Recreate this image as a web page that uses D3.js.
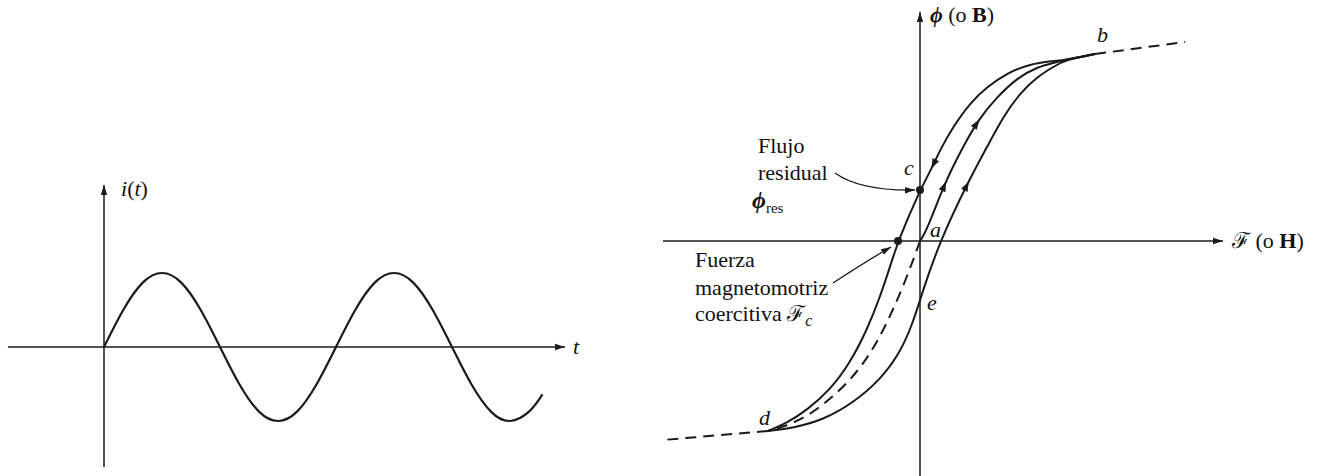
<!DOCTYPE html>
<html>
<head>
<meta charset="utf-8">
<script src="https://cdn.jsdelivr.net/npm/d3@7"></script>
<style>
body { margin: 0; background: #fff; }
text { font-family: "Liberation Serif", "Times New Roman", serif; font-size: 22px; fill: #111; }
.it { font-style: italic; }
</style>
</head>
<body>
<svg id="chart" width="1319" height="476"></svg>
<script>
// ---- left panel: i(t), time in periods, current normalised to peak
const sineT = [0, 0.083, 0.167, 0.25, 0.333, 0.417, 0.5, 0.583, 0.667, 0.75, 0.833, 0.917,
               1, 1.083, 1.167, 1.25, 1.333, 1.417, 1.5, 1.583, 1.667, 1.75, 1.833, 1.89];
const sineI = [0, 0.5, 0.87, 1, 0.87, 0.5, 0, -0.5, -0.87, -1, -0.87, -0.5,
               0, 0.5, 0.87, 1, 0.87, 0.5, 0, -0.5, -0.87, -1, -0.87, -0.64];
const leftTRange = [-0.414, 1.987];
const leftIRange = [-1.62, 2.19];

// ---- right panel: hysteresis loop, mmf F vs flux phi (arbitrary units)
// descending branch b -> c -> Fc -> d
const descF   = [1.75, 1.45, 1.33, 1.10, 0.87, 0.67, 0.50, 0.33, 0.20, 0.12, 0.00, -0.22, -0.30, -0.40, -0.53, -0.70, -0.90, -1.13, -1.33, -1.52];
const descPhi = [1.87, 1.81, 1.80, 1.77, 1.68, 1.54, 1.38, 1.14, 0.91, 0.73, 0.51, 0.00, -0.26, -0.56, -0.89, -1.22, -1.49, -1.69, -1.82, -1.90];
// ascending branch d -> e -> b
const ascF    = [-1.52, -1.27, -0.97, -0.67, -0.40, -0.20, -0.07, 0.03, 0.20, 0.48, 0.67, 0.83, 1.00, 1.17, 1.33, 1.45, 1.75];
const ascPhi  = [-1.90, -1.87, -1.79, -1.62, -1.39, -1.12, -0.82, -0.49, 0.00, 0.59, 0.94, 1.24, 1.48, 1.64, 1.74, 1.81, 1.87];
// initial magnetisation a -> b
const initF   = [0, 0.07, 0.25, 0.43, 0.58, 0.77, 0.97, 1.17, 1.37, 1.45, 1.75];
const initPhi = [0, 0.11, 0.59, 0.94, 1.21, 1.44, 1.63, 1.74, 1.79, 1.81, 1.87];
// initial magnetisation a -> d (dashed)
const negF    = [0, -0.13, -0.27, -0.43, -0.63, -0.87, -1.13, -1.37, -1.52];
const negPhi  = [0, -0.36, -0.69, -1.02, -1.32, -1.56, -1.76, -1.86, -1.90];
// saturation tails (dashed)
const tailUpF = [1.75, 2.65],  tailUpPhi = [1.87, 1.99];
const tailDnF = [-1.52, -2.57], tailDnPhi = [-1.90, -1.99];
const rightFRange = [-2.57, 3.03];
const rightPhiRange = [-2.35, 2.29];

// points marked on the loop
const residual = [0, 0.51];
const coercive = [-0.22, 0];
// direction arrows on the branches: [branch, F, phi]
const flowArrows = [["desc", 0.12, 0.73], ["init", 0.25, 0.59], ["init", 0.58, 1.21], ["asc", 0.48, 0.59]];

const svg = d3.select("#chart");
const ink = "#1a1a1a";

const defs = svg.append("defs");
defs.append("marker")
    .attr("id", "tip")
    .attr("viewBox", "0 -4 10 8")
    .attr("refX", 10).attr("refY", 0)
    .attr("markerUnits", "userSpaceOnUse")
    .attr("markerWidth", 10).attr("markerHeight", 8)
    .attr("orient", "auto")
  .append("path")
    .attr("d", "M0,-3.2L10,0L0,3.2Z")
    .attr("fill", ink);

// ---------------- left panel
const xL = d3.scaleLinear().domain([0, 1]).range([104, 336]);
const yL = d3.scaleLinear().domain([0, 1]).range([347, 273]);

const gL = svg.append("g");
gL.append("line")
    .attr("x1", xL(leftTRange[0])).attr("x2", xL(leftTRange[1]))
    .attr("y1", yL(0)).attr("y2", yL(0))
    .attr("stroke", ink).attr("stroke-width", 1.5)
    .attr("marker-end", "url(#tip)");
gL.append("line")
    .attr("x1", xL(0)).attr("x2", xL(0))
    .attr("y1", yL(leftIRange[0])).attr("y2", yL(leftIRange[1]))
    .attr("stroke", ink).attr("stroke-width", 1.5)
    .attr("marker-end", "url(#tip)");

gL.append("path")
    .datum(d3.zip(sineT, sineI))
    .attr("fill", "none")
    .attr("stroke", ink)
    .attr("stroke-width", 2.2)
    .attr("d", d3.line().x(d => xL(d[0])).y(d => yL(d[1])).curve(d3.curveNatural));

const iLabel = gL.append("text").attr("x", xL(0) + 17).attr("y", yL(leftIRange[1]) + 11);
iLabel.append("tspan").attr("class", "it").text("i");
iLabel.append("tspan").text("(");
iLabel.append("tspan").attr("class", "it").text("t");
iLabel.append("tspan").text(")");

gL.append("text").attr("class", "it")
    .attr("x", xL(leftTRange[1]) + 8).attr("y", yL(0) + 7)
    .text("t");

// ---------------- right panel
const xR = d3.scaleLinear().domain([0, 1]).range([920, 1020]);
const yR = d3.scaleLinear().domain([0, 1]).range([241, 141]);
const gR = svg.append("g");

gR.append("line")
    .attr("x1", xR(rightFRange[0])).attr("x2", xR(rightFRange[1]))
    .attr("y1", yR(0)).attr("y2", yR(0))
    .attr("stroke", ink).attr("stroke-width", 1.5)
    .attr("marker-end", "url(#tip)");
gR.append("line")
    .attr("x1", xR(0)).attr("x2", xR(0))
    .attr("y1", yR(rightPhiRange[0])).attr("y2", yR(rightPhiRange[1]))
    .attr("stroke", ink).attr("stroke-width", 1.5)
    .attr("marker-end", "url(#tip)");

// B-spline smooths out the small reading errors in the hand-read points
const loopLine = d3.line().x(d => xR(d[0])).y(d => yR(d[1])).curve(d3.curveBasis);

const branches = {
    desc: d3.zip(descF, descPhi),
    asc: d3.zip(ascF, ascPhi),
    init: d3.zip(initF, initPhi)
};
const branchPaths = {};
Object.entries(branches).forEach(([k, pts]) => {
    branchPaths[k] = gR.append("path")
        .datum(pts)
        .attr("fill", "none")
        .attr("stroke", ink)
        .attr("stroke-width", 2)
        .attr("d", loopLine);
});

[d3.zip(negF, negPhi), d3.zip(tailUpF, tailUpPhi), d3.zip(tailDnF, tailDnPhi)].forEach(pts => {
    gR.append("path")
        .datum(pts)
        .attr("fill", "none")
        .attr("stroke", ink)
        .attr("stroke-width", 2)
        .attr("stroke-dasharray", "11,7")
        .attr("d", loopLine);
});

// little arrowheads along the branches, oriented with the path
flowArrows.forEach(([k, f, p]) => {
    const node = branchPaths[k].node();
    const len = node.getTotalLength();
    const tx = xR(f), ty = yR(p);
    let best = 0, bestD = Infinity;
    for (let s = 0; s <= len; s += 0.5) {
        const pt = node.getPointAtLength(s);
        const dd = (pt.x - tx) ** 2 + (pt.y - ty) ** 2;
        if (dd < bestD) { bestD = dd; best = s; }
    }
    const a = node.getPointAtLength(Math.max(0, best - 2));
    const b = node.getPointAtLength(Math.min(len, best + 2));
    const c = node.getPointAtLength(best);
    const ang = Math.atan2(b.y - a.y, b.x - a.x) * 180 / Math.PI;
    gR.append("path")
        .attr("d", "M-9,-3.6L1,0L-9,3.6Z")
        .attr("fill", ink)
        .attr("transform", `translate(${c.x},${c.y}) rotate(${ang})`);
});

// marked points
gR.selectAll("circle.pt")
    .data([residual, coercive])
    .join("circle")
    .attr("class", "pt")
    .attr("cx", d => xR(d[0])).attr("cy", d => yR(d[1]))
    .attr("r", 4)
    .attr("fill", ink);

// callout arrows
gR.append("path")
    .attr("d", `M${xR(-0.85)},${yR(0.68)} Q${xR(-0.6)},${yR(0.5)} ${xR(-0.05)},${yR(0.51)}`)
    .attr("fill", "none").attr("stroke", ink).attr("stroke-width", 1.3)
    .attr("marker-end", "url(#tip)");
gR.append("path")
    .attr("d", `M${xR(-0.87)},${yR(-0.42)} Q${xR(-0.55)},${yR(-0.21)} ${xR(-0.29)},${yR(-0.06)}`)
    .attr("fill", "none").attr("stroke", ink).attr("stroke-width", 1.3)
    .attr("marker-end", "url(#tip)");

// axis titles
const phiLabel = gR.append("text").attr("x", xR(0) + 10).attr("y", yR(rightPhiRange[1]) + 10);
phiLabel.append("tspan").attr("class", "it").attr("font-weight", "bold").text("\u03d5");
phiLabel.append("tspan").text(" (o ");
phiLabel.append("tspan").attr("font-weight", "bold").text("B");
phiLabel.append("tspan").text(")");

const fLabel = gR.append("text").attr("x", xR(rightFRange[1]) + 9).attr("y", yR(0) + 7);
fLabel.append("tspan").text("\u2131 (o ");
fLabel.append("tspan").attr("font-weight", "bold").text("H");
fLabel.append("tspan").text(")");

// point letters
const letters = [["a", 0.10, 0.04], ["b", 1.77, 1.99], ["c", -0.16, 0.66], ["d", -1.61, -1.84], ["e", 0.07, -0.69]];
gR.selectAll("text.lt")
    .data(letters)
    .join("text")
    .attr("class", "lt it")
    .attr("font-size", 21)
    .attr("x", d => xR(d[1])).attr("y", d => yR(d[2]))
    .text(d => d[0]);

// annotations
gR.append("text").attr("x", xR(-1.62)).attr("y", yR(0.88)).text("Flujo");
gR.append("text").attr("x", xR(-1.62)).attr("y", yR(0.61)).text("residual");
const phiRes = gR.append("text").attr("x", xR(-1.68)).attr("y", yR(0.33));
phiRes.append("tspan").attr("class", "it").attr("font-weight", "bold").attr("font-size", 24).text("\u03d5");
phiRes.append("tspan").attr("font-size", 15).attr("dy", 5).text("res");

gR.append("text").attr("x", xR(-2.25)).attr("y", yR(-0.26)).text("Fuerza");
gR.append("text").attr("x", xR(-2.25)).attr("y", yR(-0.54)).text("magnetomotriz");
const coer = gR.append("text").attr("x", xR(-2.25)).attr("y", yR(-0.80));
coer.append("tspan").text("coercitiva \u2131");
coer.append("tspan").attr("class", "it").attr("font-size", 16).attr("dy", 5).text("c");
</script>
</body>
</html>
